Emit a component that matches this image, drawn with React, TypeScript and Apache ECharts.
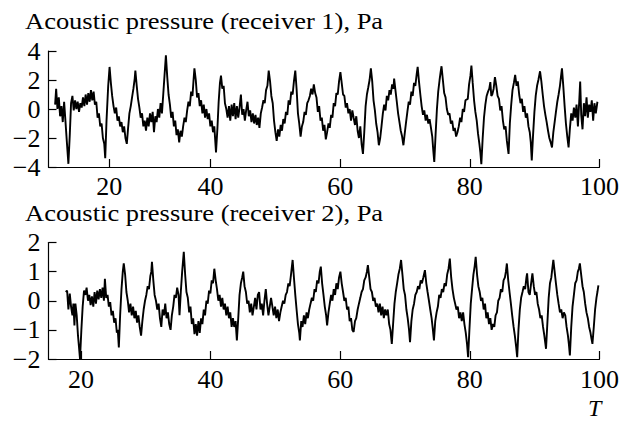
import React, { useEffect, useRef } from "react";
import * as echarts from "echarts";

// Receiver 1: [T, pressure (Pa)]
const receiver1: [number, number][] = [
  [16.02, 0.3], [16.18, 1.4], [16.38, 0.0], [16.59, 0.8], [16.79, -0.5], [17.0, 0.2], [17.2, -0.9], [17.41, 0.5],
  [17.61, -0.8], [17.82, -2.2], [18.07, -3.78], [18.28, -1.8], [18.48, 0.4], [18.69, 0.9], [18.89, -0.1], [19.1, 0.6],
  [19.3, 0.0], [19.5, 0.5], [19.71, -0.2], [19.91, 0.4], [20.12, 0.1], [20.32, 0.8], [20.53, 0.2], [20.73, 1.0],
  [20.94, 0.3], [21.14, 1.1], [21.35, 0.5], [21.55, 1.3], [21.75, 0.6], [21.96, 1.2], [22.16, 0.3], [22.37, 0.5],
  [22.57, -0.6], [22.78, -0.3], [22.98, -1.2], [23.19, -1.0], [23.39, -2.0], [23.6, -2.4], [23.75, -3.4], [23.95, -0.8],
  [24.21, 1.6], [24.42, 2.9], [24.62, 1.8], [24.82, 0.9], [25.03, 0.2], [25.23, -0.3], [25.44, 0.1], [25.64, -0.8],
  [25.85, -0.5], [26.05, -1.2], [26.26, -0.9], [26.46, -1.6], [26.67, -1.2], [26.87, -2.0], [27.08, -2.4], [27.28, -1.3],
  [27.48, -0.3], [27.69, 0.2], [27.89, 0.8], [28.1, 1.4], [28.3, 2.1], [28.4, 2.65], [28.61, 1.6], [28.81, 0.7],
  [29.02, 0.1], [29.22, -0.6], [29.43, -0.3], [29.63, -1.2], [29.84, -0.8], [30.04, -1.5], [30.25, -0.6], [30.45, -1.2],
  [30.66, -0.3], [30.86, -0.9], [31.07, -0.2], [31.27, -1.6], [31.48, -0.5], [31.68, -0.9], [31.88, 0.0], [32.09, -0.6],
  [32.29, 0.4], [32.5, -0.3], [32.7, 1.0], [32.91, 2.4], [33.11, 3.7], [33.32, 2.2], [33.52, 1.0], [33.73, 0.3],
  [33.93, -0.6], [34.14, -0.2], [34.34, -1.2], [34.55, -0.8], [34.75, -1.8], [34.95, -1.4], [35.16, -2.3], [35.36, -1.5],
  [35.57, -1.9], [35.77, -1.2], [35.98, -0.6], [36.18, -0.9], [36.39, -0.1], [36.59, 0.5], [36.8, 0.2], [37.0, 1.2],
  [37.21, 0.9], [37.36, 1.9], [37.51, 2.8], [37.72, 2.0], [37.92, 0.8], [38.13, 1.1], [38.33, 0.2], [38.54, 0.6],
  [38.74, -0.3], [38.95, 0.3], [39.15, -0.6], [39.36, 0.0], [39.56, -0.7], [39.77, -0.3], [39.97, -1.2], [40.18, -0.8],
  [40.38, -1.6], [40.58, -1.2], [40.84, -3.0], [41.05, -1.4], [41.25, 0.5], [41.45, 1.8], [41.61, 2.3], [41.81, 1.4],
  [42.02, 1.6], [42.22, 0.4], [42.43, 0.0], [42.63, -0.6], [42.84, 0.2], [43.04, -0.8], [43.25, 0.3], [43.45, -0.5],
  [43.65, 0.4], [43.86, -0.7], [44.06, 0.2], [44.27, -0.6], [44.47, 0.1], [44.68, 1.0], [44.88, -0.4], [45.09, 0.0],
  [45.29, -0.8], [45.49, -0.1], [45.7, 0.5], [45.9, -0.5], [46.11, -0.1], [46.31, -0.9], [46.52, -0.3], [46.72, -1.0],
  [46.93, -0.4], [47.13, -1.1], [47.34, -0.6], [47.54, -1.3], [47.75, -0.3], [47.95, 0.1], [48.16, 0.6], [48.36, 0.4],
  [48.56, 1.3], [48.77, 1.6], [48.97, 2.65], [49.18, 1.9], [49.38, 0.9], [49.59, 0.4], [49.79, -0.8], [50.0, -1.6],
  [50.2, -2.2], [50.41, -1.4], [50.61, -1.9], [50.82, -1.1], [51.02, -1.5], [51.22, -0.7], [51.43, -1.0], [51.63, -0.2],
  [51.84, -0.4], [52.04, 0.6], [52.25, 0.3], [52.45, 1.2], [52.66, 1.0], [52.86, 1.9], [53.07, 2.65], [53.27, 1.4],
  [53.48, -0.3], [53.68, -1.0], [53.89, -1.9], [54.09, -1.2], [54.29, -0.9], [54.5, -0.2], [54.7, -0.4], [54.91, 0.4],
  [55.11, 0.6], [55.32, 0.9], [55.52, 1.4], [55.73, 1.0], [55.93, 1.7], [56.14, 1.1], [56.34, 0.8], [56.55, -0.2],
  [56.75, 0.2], [56.96, -0.8], [57.16, -0.6], [57.37, -1.5], [57.57, -1.1], [57.78, -2.1], [57.98, -1.6], [58.19, -1.0],
  [58.39, -1.3], [58.6, -0.4], [58.8, -0.6], [59.0, 0.4], [59.21, 0.2], [59.41, 1.1], [59.62, 1.0], [59.82, 1.9],
  [60.03, 2.55], [60.23, 1.8], [60.44, 1.0], [60.64, 0.9], [60.85, 0.1], [61.05, 0.4], [61.26, -0.3], [61.46, 0.0],
  [61.67, -0.8], [61.87, -0.1], [62.07, -0.6], [62.28, -1.1], [62.48, -0.5], [62.69, -1.5], [62.89, -2.0], [63.1, -1.2],
  [63.3, -2.4], [63.51, -3.1], [63.71, -1.6], [63.92, 0.2], [64.12, 1.0], [64.33, 1.5], [64.53, 2.0], [64.73, 2.8],
  [64.94, 1.9], [65.14, 0.6], [65.35, -0.1], [65.55, -1.0], [65.76, -1.6], [65.96, -2.5], [66.17, -2.0], [66.37, -1.2],
  [66.58, -0.3], [66.78, 0.3], [66.99, -0.1], [67.19, 0.9], [67.4, 0.6], [67.6, 1.3], [67.8, 1.0], [68.01, 1.7],
  [68.21, 1.4], [68.32, 2.1], [68.52, 1.3], [68.73, 0.5], [68.93, -0.3], [69.14, -0.9], [69.34, -1.5], [69.55, -1.9],
  [69.75, -2.5], [69.95, -1.7], [70.16, -0.9], [70.36, -0.2], [70.57, 0.5], [70.77, 0.3], [70.98, 1.2], [71.18, 0.9],
  [71.39, 1.8], [71.59, 1.6], [71.8, 2.4], [71.95, 2.9], [72.15, 1.9], [72.36, 1.0], [72.56, 0.2], [72.77, -0.4],
  [72.97, -0.1], [73.18, -0.8], [73.38, -0.4], [73.59, -1.0], [73.79, -0.7], [74.0, -1.3], [74.2, -1.9], [74.35, -2.8],
  [74.51, -3.65], [74.71, -1.8], [74.92, 0.0], [75.12, 1.2], [75.33, 2.0], [75.48, 2.5], [75.63, 2.95], [75.84, 2.0],
  [76.04, 1.1], [76.25, 0.8], [76.45, 0.0], [76.66, -0.4], [76.86, -0.3], [77.07, -1.0], [77.27, -0.8], [77.48, -1.5],
  [77.68, -1.3], [77.88, -1.9], [78.09, -1.6], [78.29, -1.2], [78.5, -0.6], [78.7, -0.9], [78.91, 0.0], [79.11, -0.2],
  [79.32, 0.6], [79.68, 0.7], [79.88, 1.7], [80.09, 2.3], [80.24, 3.0], [80.44, 1.8], [80.65, 0.6], [80.85, -0.2],
  [81.06, -0.8], [81.26, -1.7], [81.47, -2.4], [81.62, -3.0], [81.77, -3.8], [81.98, -2.0], [82.18, -0.6], [82.39, 0.3],
  [82.59, 0.9], [82.8, 1.2], [83.0, 1.4], [83.16, 1.85], [83.31, 0.9], [83.46, 1.0], [83.67, 1.4], [83.87, 2.2],
  [84.08, 1.6], [84.28, 0.9], [84.49, 0.7], [84.69, -0.1], [84.89, 0.2], [85.1, -0.8], [85.3, -1.4], [85.51, -1.2],
  [85.71, -2.2], [85.97, -3.1], [86.17, -1.0], [86.38, 0.3], [86.58, 1.3], [86.79, 1.8], [86.99, 2.35], [87.2, 1.6],
  [87.4, 1.9], [87.61, 1.0], [87.81, 0.4], [88.02, 0.7], [88.22, -0.2], [88.42, 0.2], [88.63, -0.6], [88.83, -0.3],
  [89.04, -1.2], [89.24, -1.6], [89.4, -2.3], [89.55, -3.55], [89.75, -1.8], [89.96, -0.2], [90.16, 0.9], [90.37, 1.6],
  [90.57, 2.0], [90.83, 2.6], [91.03, 1.9], [91.24, 1.0], [91.44, 0.2], [91.65, -0.4], [91.85, -0.9], [92.06, -1.5],
  [92.26, -2.0], [92.47, -2.3], [92.67, -2.65], [92.88, -1.6], [93.08, -0.9], [93.28, -0.2], [93.49, 0.5], [93.69, 1.0],
  [93.9, 1.6], [94.05, 2.2], [94.21, 2.8], [94.41, 1.6], [94.62, 0.2], [94.82, -1.0], [95.03, -1.9], [95.23, -2.65],
  [95.44, -1.3], [95.64, -0.3], [95.85, -0.8], [96.05, 0.1], [96.26, -0.6], [96.46, 0.3], [96.67, -1.2], [96.87, 0.5],
  [97.02, 1.9], [97.18, -0.4], [97.38, -1.4], [97.59, 0.4], [97.79, -0.5], [98.0, 0.8], [98.2, -0.6], [98.4, 0.3],
  [98.61, -0.2], [98.81, 0.6], [99.02, -0.8], [99.22, 0.4], [99.43, -0.3], [99.68, 0.5],
];

// Receiver 2: [T, pressure (Pa)]
const receiver2: [number, number][] = [
  [17.66, 0.3], [17.87, 0.35], [18.07, -0.3], [18.28, 0.25], [18.48, -0.2], [18.69, -0.5], [18.84, -0.1], [19.0, -0.85],
  [19.15, -0.1], [19.35, -0.5], [19.55, -1.2], [19.71, -1.6], [19.86, -2.0], [20.07, -1.0], [20.27, -0.2], [20.48, 0.35],
  [20.68, 0.2], [20.88, 0.45], [21.09, 0.0], [21.29, 0.2], [21.5, -0.15], [21.7, 0.15], [21.91, -0.2], [22.11, 0.3],
  [22.32, -0.1], [22.52, 0.35], [22.73, 0.05], [22.93, 0.4], [23.14, 0.1], [23.34, 0.45], [23.55, 0.0], [23.7, 0.75],
  [23.9, 0.1], [24.11, 0.2], [24.31, -0.2], [24.52, -0.05], [24.72, -0.5], [24.93, -0.35], [25.13, -0.75], [25.34, -0.6],
  [25.54, -1.1], [25.69, -1.0], [25.85, -1.6], [26.05, -0.5], [26.26, 0.4], [26.46, 1.0], [26.61, 1.28], [26.82, 0.9],
  [27.02, 0.3], [27.23, 0.0], [27.43, -0.4], [27.64, -0.1], [27.84, -0.5], [28.05, -0.2], [28.25, -0.6], [28.46, -0.35],
  [28.66, -0.75], [28.87, -0.5], [29.07, -0.9], [29.28, -1.2], [29.48, -0.7], [29.68, -0.3], [29.89, 0.0], [30.09, 0.2],
  [30.3, 0.5], [30.5, 0.4], [30.71, 0.85], [30.86, 1.0], [30.96, 1.34], [31.17, 0.7], [31.37, 0.2], [31.58, 0.0],
  [31.78, -0.3], [31.99, -0.1], [32.19, -0.6], [32.4, -0.9], [32.6, -0.3], [32.81, -0.5], [33.01, -0.1], [33.21, -0.6],
  [33.42, -0.4], [33.62, -0.8], [33.83, -1.0], [34.03, -0.5], [34.24, -0.2], [34.44, 0.2], [34.65, 0.1], [34.85, 0.45],
  [35.06, 0.2], [35.21, -0.5], [35.41, 0.3], [35.62, 1.0], [35.87, 1.68], [36.08, 0.9], [36.28, 0.3], [36.49, 0.1],
  [36.7, -0.4], [36.9, -0.2], [37.11, -0.8], [37.31, -0.6], [37.52, -1.15], [37.72, -0.8], [37.92, -1.2], [38.13, -0.7],
  [38.33, -1.1], [38.54, -0.6], [38.74, -0.8], [38.95, -0.3], [39.15, -0.5], [39.36, 0.0], [39.56, -0.1], [39.77, 0.35],
  [39.97, 0.25], [40.18, 0.7], [40.38, 0.6], [40.58, 1.1], [40.79, 0.7], [40.99, 0.4], [41.2, 0.0], [41.4, 0.2],
  [41.61, -0.2], [41.81, 0.1], [42.02, -0.3], [42.22, -0.1], [42.43, -0.5], [42.63, -0.2], [42.84, -0.6], [43.04, -0.4],
  [43.25, -0.9], [43.45, -0.6], [43.65, -0.9], [43.86, -0.7], [44.06, -1.36], [44.27, -0.6], [44.47, 0.2], [44.68, 0.6],
  [44.88, 0.8], [45.04, 1.0], [45.24, 0.5], [45.45, 0.3], [45.65, -0.1], [45.86, 0.0], [46.06, -0.4], [46.27, -0.1],
  [46.47, -0.5], [46.68, -0.2], [46.88, 0.1], [47.08, -0.3], [47.29, 0.2], [47.49, 0.3], [47.7, -0.3], [47.9, -0.1],
  [48.11, -0.5], [48.31, 0.0], [48.52, 0.4], [48.72, -0.1], [48.93, -0.5], [49.13, -0.2], [49.33, 0.1], [49.54, -0.2],
  [49.74, -0.5], [49.95, -0.2], [50.15, -0.6], [50.36, -0.3], [50.56, -0.7], [50.77, -0.4], [50.97, -0.2], [51.18, 0.0],
  [51.38, -0.1], [51.59, 0.2], [51.79, 0.3], [52.0, 0.6], [52.2, 0.5], [52.41, 0.9], [52.66, 1.4], [52.86, 0.8],
  [53.07, 0.2], [53.27, -0.3], [53.48, -0.8], [53.68, -1.1], [53.78, -1.36], [53.99, -0.7], [54.19, -0.9], [54.4, -0.5],
  [54.6, -0.8], [54.81, -0.4], [55.01, -0.6], [55.22, -0.3], [55.42, -0.1], [55.63, 0.1], [55.83, 0.0], [56.04, 0.4],
  [56.24, 0.3], [56.44, 0.7], [56.65, 0.6], [56.85, 1.0], [57.01, 1.17], [57.21, 0.6], [57.42, 0.2], [57.62, -0.2],
  [57.83, -0.5], [57.98, -0.85], [58.19, -0.4], [58.39, -0.1], [58.6, 0.2], [58.8, 0.0], [59.0, 0.4], [59.21, 0.2],
  [59.41, 0.6], [59.62, 0.4], [59.82, 0.8], [60.03, 1.0], [60.23, 0.6], [60.44, 0.3], [60.64, 0.0], [60.85, 0.1],
  [61.05, -0.3], [61.26, -0.2], [61.46, -0.7], [61.67, -0.6], [61.87, -1.0], [62.07, -1.07], [62.28, -0.7], [62.48, -0.6],
  [62.69, -0.3], [62.89, -0.1], [63.1, 0.1], [63.3, 0.3], [63.51, 0.4], [63.71, 0.7], [63.92, 0.8], [64.12, 1.0],
  [64.27, 1.22], [64.48, 0.8], [64.68, 0.4], [64.89, 0.3], [65.09, 0.0], [65.3, 0.1], [65.5, -0.2], [65.71, -0.1],
  [65.91, -0.4], [66.12, -0.1], [66.32, -0.5], [66.53, -0.2], [66.73, -0.6], [66.93, -0.3], [67.14, -0.5], [67.34, -0.3],
  [67.55, -0.8], [67.75, -1.0], [67.96, -1.48], [68.16, -0.8], [68.37, -0.1], [68.57, 0.3], [68.78, 0.6], [68.98, 0.9],
  [69.19, 1.1], [69.39, 1.4], [69.6, 0.9], [69.8, 0.4], [70.0, 0.2], [70.21, -0.3], [70.41, -0.6], [70.62, -1.0],
  [70.77, -1.42], [70.98, -0.7], [71.18, -0.3], [71.39, -0.1], [71.59, 0.2], [71.8, 0.3], [72.0, 0.5], [72.21, 0.4],
  [72.41, 0.7], [72.61, 0.6], [72.82, 0.8], [73.07, 1.05], [73.28, 0.6], [73.48, 0.3], [73.69, 0.0], [73.89, -0.3],
  [74.1, -0.6], [74.3, -1.0], [74.46, -1.36], [74.66, -0.7], [74.87, -0.4], [75.07, -0.2], [75.27, 0.2], [75.48, 0.1],
  [75.68, 0.4], [75.89, 0.3], [76.09, 0.6], [76.3, 0.5], [76.5, 0.9], [76.71, 1.1], [76.91, 1.45], [77.12, 0.8],
  [77.32, 0.4], [77.53, 0.1], [77.73, -0.1], [77.93, -0.3], [78.14, -0.2], [78.34, -0.6], [78.55, -0.4], [78.75, -0.7],
  [78.96, -0.4], [79.16, -0.8], [79.37, -1.1], [79.57, -1.5], [79.73, -1.94], [79.93, -1.0], [80.14, -0.1], [80.34, 0.4],
  [80.55, 0.9], [80.75, 1.2], [80.9, 1.51], [81.11, 0.9], [81.31, 0.5], [81.52, 0.3], [81.72, 0.0], [81.93, 0.1],
  [82.13, -0.3], [82.34, -0.1], [82.54, -0.6], [82.75, -0.4], [82.95, -0.8], [83.16, -0.6], [83.36, -1.0], [83.56, -0.8],
  [83.77, -0.9], [83.97, -0.5], [84.18, -0.4], [84.38, 0.0], [84.59, 0.1], [84.79, 0.4], [85.0, 0.3], [85.2, 0.7],
  [85.41, 0.8], [85.56, 1.0], [85.71, 1.28], [85.92, 0.7], [86.12, 0.3], [86.33, -0.1], [86.53, -0.5], [86.75, -0.9],
  [86.94, -1.2], [87.15, -1.6], [87.3, -1.94], [87.5, -1.0], [87.71, -0.3], [87.91, 0.1], [88.12, 0.3], [88.32, 0.5],
  [88.53, 0.4], [88.73, 0.8], [88.83, 0.94], [89.04, 0.3], [89.24, 0.2], [89.45, 0.6], [89.65, 0.94], [89.86, 0.5],
  [90.06, 0.2], [90.27, 0.3], [90.47, -0.1], [90.68, -0.3], [90.88, -0.6], [91.08, -0.5], [91.29, -0.9], [91.49, -1.2],
  [91.75, -1.65], [91.95, -0.8], [92.16, 0.1], [92.36, 0.6], [92.57, 0.8], [92.72, 1.1], [92.88, 1.4], [93.08, 1.0],
  [93.28, 0.6], [93.49, 0.2], [93.69, -0.1], [93.9, -0.4], [94.1, -0.3], [94.31, -0.6], [94.51, -0.4], [94.72, -0.5],
  [94.92, -0.9], [95.13, -1.2], [95.28, -1.5], [95.43, -1.88], [95.64, -0.9], [95.84, -0.2], [96.05, 0.2], [96.25, 0.6],
  [96.46, 0.7], [96.66, 1.0], [96.82, 1.1], [96.97, 1.28], [97.17, 0.9], [97.38, 0.5], [97.58, 0.3], [97.79, -0.1],
  [97.99, -0.4], [98.2, -0.6], [98.4, -0.9], [98.61, -1.1], [98.76, -1.3], [98.91, -1.48], [99.12, -0.9], [99.32, -0.3],
  [99.53, 0.1], [99.68, 0.3], [99.83, 0.53],
];

// Tick positions and labels (the top panel's "20" tick sits left of the linear position in the picture)
const topTickValues = [24.36, 40, 60, 80, 100];
const bottomTickValues = [20, 40, 60, 80, 100];
const tickLabels = ["20", "40", "60", "80", "100"];
const title1 = "Acoustic pressure (receiver 1), Pa";
const title2 = "Acoustic pressure (receiver 2), Pa";
const xName = "T";

const FONT = "Liberation Serif, serif";

function labelFor(values: number[]) {
  return (v: number) => {
    let best = 0;
    for (let i = 1; i < values.length; i++) {
      if (Math.abs(values[i] - v) < Math.abs(values[best] - v)) best = i;
    }
    return tickLabels[best];
  };
}

function xAxisFor(gridIndex: number, ticks: number[], margin: number) {
  return {
    type: "value",
    gridIndex,
    min: 15,
    max: 100,
    axisLine: { show: true, onZero: false, lineStyle: { color: "#000", width: 1.2 } },
    axisTick: { show: true, inside: true, length: 8, customValues: ticks, lineStyle: { color: "#000", width: 1.2 } },
    axisLabel: {
      customValues: ticks,
      formatter: labelFor(ticks),
      color: "#000",
      fontFamily: FONT,
      fontSize: 26,
      lineHeight: 26,
      margin,
    },
    splitLine: { show: false },
  };
}

function yAxisFor(gridIndex: number, min: number, max: number, interval: number) {
  return {
    type: "value",
    gridIndex,
    min,
    max,
    interval,
    axisLine: { show: true, onZero: false, lineStyle: { color: "#000", width: 1.2 } },
    axisTick: { show: true, inside: true, length: 8, lineStyle: { color: "#000", width: 1.2 } },
    axisLabel: {
      color: "#000",
      fontFamily: FONT,
      fontSize: 26,
      margin: 8,
      formatter: (v: number) => String(v).replace("-", "\u2212"),
    },
    splitLine: { show: false },
  };
}

export default function App() {
  const ref = useRef<HTMLDivElement>(null);
  useEffect(() => {
    if (!ref.current) return;
    const chart = echarts.init(ref.current, undefined, { renderer: "svg" });
    chart.setOption({
      animation: false,
      backgroundColor: "#fff",
      grid: [
        { left: 48.5, top: 51, width: 554.2, height: 116 },
        { left: 48.5, top: 242.5, width: 554.2, height: 116.5 },
      ],
      xAxis: [xAxisFor(0, topTickValues, 6), xAxisFor(1, bottomTickValues, 7)],
      yAxis: [yAxisFor(0, -4, 4, 2), yAxisFor(1, -2, 2, 1)],
      series: [
        {
          type: "line",
          xAxisIndex: 0,
          yAxisIndex: 0,
          data: receiver1,
          symbol: "none",
          showSymbol: false,
          lineStyle: { color: "#000", width: 1.9 },
        },
        {
          type: "line",
          xAxisIndex: 1,
          yAxisIndex: 1,
          data: receiver2,
          symbol: "none",
          showSymbol: false,
          lineStyle: { color: "#000", width: 1.9 },
        },
      ],
      graphic: [
        {
          type: "text",
          x: 25,
          y: 10,
          scaleY: 0.85,
          style: { text: title1, font: `26.5px ${FONT}`, fill: "#000", verticalAlign: "top" },
        },
        {
          type: "text",
          x: 25,
          y: 202,
          scaleY: 0.85,
          style: { text: title2, font: `26.5px ${FONT}`, fill: "#000", verticalAlign: "top" },
        },
        {
          type: "text",
          x: 588,
          y: 417.5,
          style: {
            text: xName,
            font: `italic 24px ${FONT}`,
            fill: "#000",
            verticalAlign: "bottom",
            lineHeight: 20,
          },
        },
      ],
    });
    return () => chart.dispose();
  }, []);
  return (
    <div
      ref={ref}
      style={{ position: "fixed", left: 0, top: 0, width: 622, height: 421, background: "#fff" }}
    />
  );
}
